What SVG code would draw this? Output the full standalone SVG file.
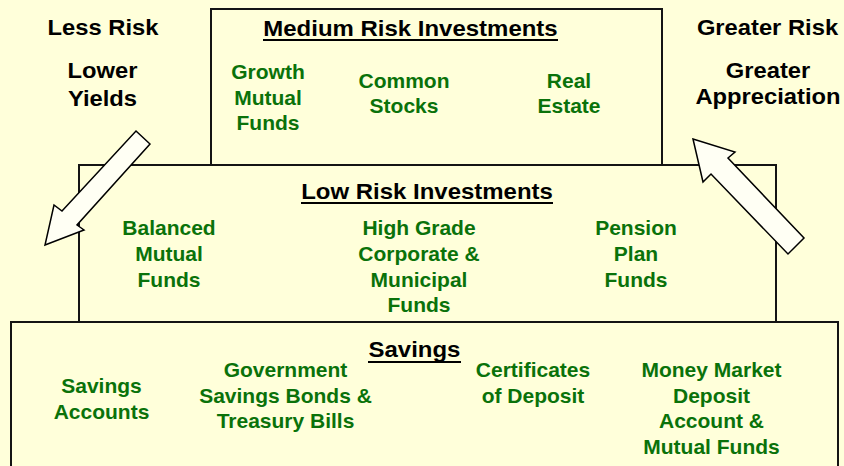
<svg xmlns="http://www.w3.org/2000/svg" width="844" height="466" viewBox="0 0 844 466">
  <defs>
    <style>
      .bg { fill: #FFFFDA; }
      .tier { fill: #FFFFDA; stroke: #141414; stroke-width: 2; }
      .arrow { fill: #FFFFF4; stroke: #000; stroke-width: 1.5; stroke-linejoin: miter; }
      .head { font-family: "Liberation Sans", Arial, sans-serif; font-weight: bold; font-size: 22px; fill: #000; text-anchor: middle; }
      .item { font-family: "Liberation Sans", Arial, sans-serif; font-weight: bold; font-size: 21px; fill: #0A720A; text-anchor: middle; }
      .rule { stroke: #000; stroke-width: 2; }
    </style>
  </defs>

  <rect class="bg" x="0" y="0" width="844" height="466"/>

  <!-- Tier: medium risk -->
  <g id="medium-risk">
    <rect class="tier" x="211" y="9" width="451" height="156"/>
    <text class="head" transform="translate(410.5 36) scale(1.09 1)">Medium Risk Investments</text>
    <line class="rule" x1="263" y1="40" x2="558" y2="40"/>
    <text class="item" x="268" y="79">Growth</text>
    <text class="item" x="268" y="104.5">Mutual</text>
    <text class="item" x="268" y="130">Funds</text>
    <text class="item" x="404" y="87.5">Common</text>
    <text class="item" x="404" y="112.5">Stocks</text>
    <text class="item" x="569" y="87.5">Real</text>
    <text class="item" x="569" y="112.5">Estate</text>
  </g>

  <!-- Tier: low risk -->
  <g id="low-risk">
    <rect class="tier" x="79" y="165" width="697" height="157"/>
    <text class="head" transform="translate(427 199) scale(1.09 1)">Low Risk Investments</text>
    <line class="rule" x1="301" y1="203" x2="553" y2="203"/>
    <text class="item" x="169" y="235">Balanced</text>
    <text class="item" x="169" y="261">Mutual</text>
    <text class="item" x="169" y="287">Funds</text>
    <text class="item" x="419" y="235">High Grade</text>
    <text class="item" x="419" y="261">Corporate &amp;</text>
    <text class="item" x="419" y="287">Municipal</text>
    <text class="item" x="419" y="312">Funds</text>
    <text class="item" x="636" y="235">Pension</text>
    <text class="item" x="636" y="261">Plan</text>
    <text class="item" x="636" y="287">Funds</text>
  </g>

  <!-- Tier: savings -->
  <g id="savings">
    <rect class="tier" x="11" y="322" width="827" height="150"/>
    <text class="head" transform="translate(414.5 357) scale(1.09 1)">Savings</text>
    <line class="rule" x1="368" y1="362" x2="461" y2="362"/>
    <text class="item" x="101.5" y="393">Savings</text>
    <text class="item" x="101.5" y="419">Accounts</text>
    <text class="item" x="285.5" y="376.5">Government</text>
    <text class="item" x="285.5" y="402.5">Savings Bonds &amp;</text>
    <text class="item" x="285.5" y="428">Treasury Bills</text>
    <text class="item" x="533" y="376.5">Certificates</text>
    <text class="item" x="533" y="402.5">of Deposit</text>
    <text class="item" x="711.5" y="376.5">Money Market</text>
    <text class="item" x="711.5" y="402.5">Deposit</text>
    <text class="item" x="711.5" y="428">Account &amp;</text>
    <text class="item" x="711.5" y="454">Mutual Funds</text>
  </g>

  <!-- Side captions -->
  <g id="less-risk">
    <text class="head" transform="translate(103 35) scale(1.08 1)">Less Risk</text>
    <text class="head" transform="translate(102.5 78) scale(1.08 1)">Lower</text>
    <text class="head" transform="translate(102.5 106) scale(1.08 1)">Yields</text>
  </g>
  <g id="greater-risk">
    <text class="head" transform="translate(767.5 35) scale(1.08 1)">Greater Risk</text>
    <text class="head" transform="translate(768 78) scale(1.08 1)">Greater</text>
    <text class="head" transform="translate(768 104) scale(1.08 1)">Appreciation</text>
  </g>

  <!-- Connectors: block arrows across the tiers -->
  <g id="connectors">
    <polygon class="arrow" points="136,131 150,144 77,225 84,230 45,245 54,205 62,211"/>
    <polygon class="arrow" points="693,139 735,152 728,158 804,238 788,254 711,174 703,182"/>
  </g>
</svg>
